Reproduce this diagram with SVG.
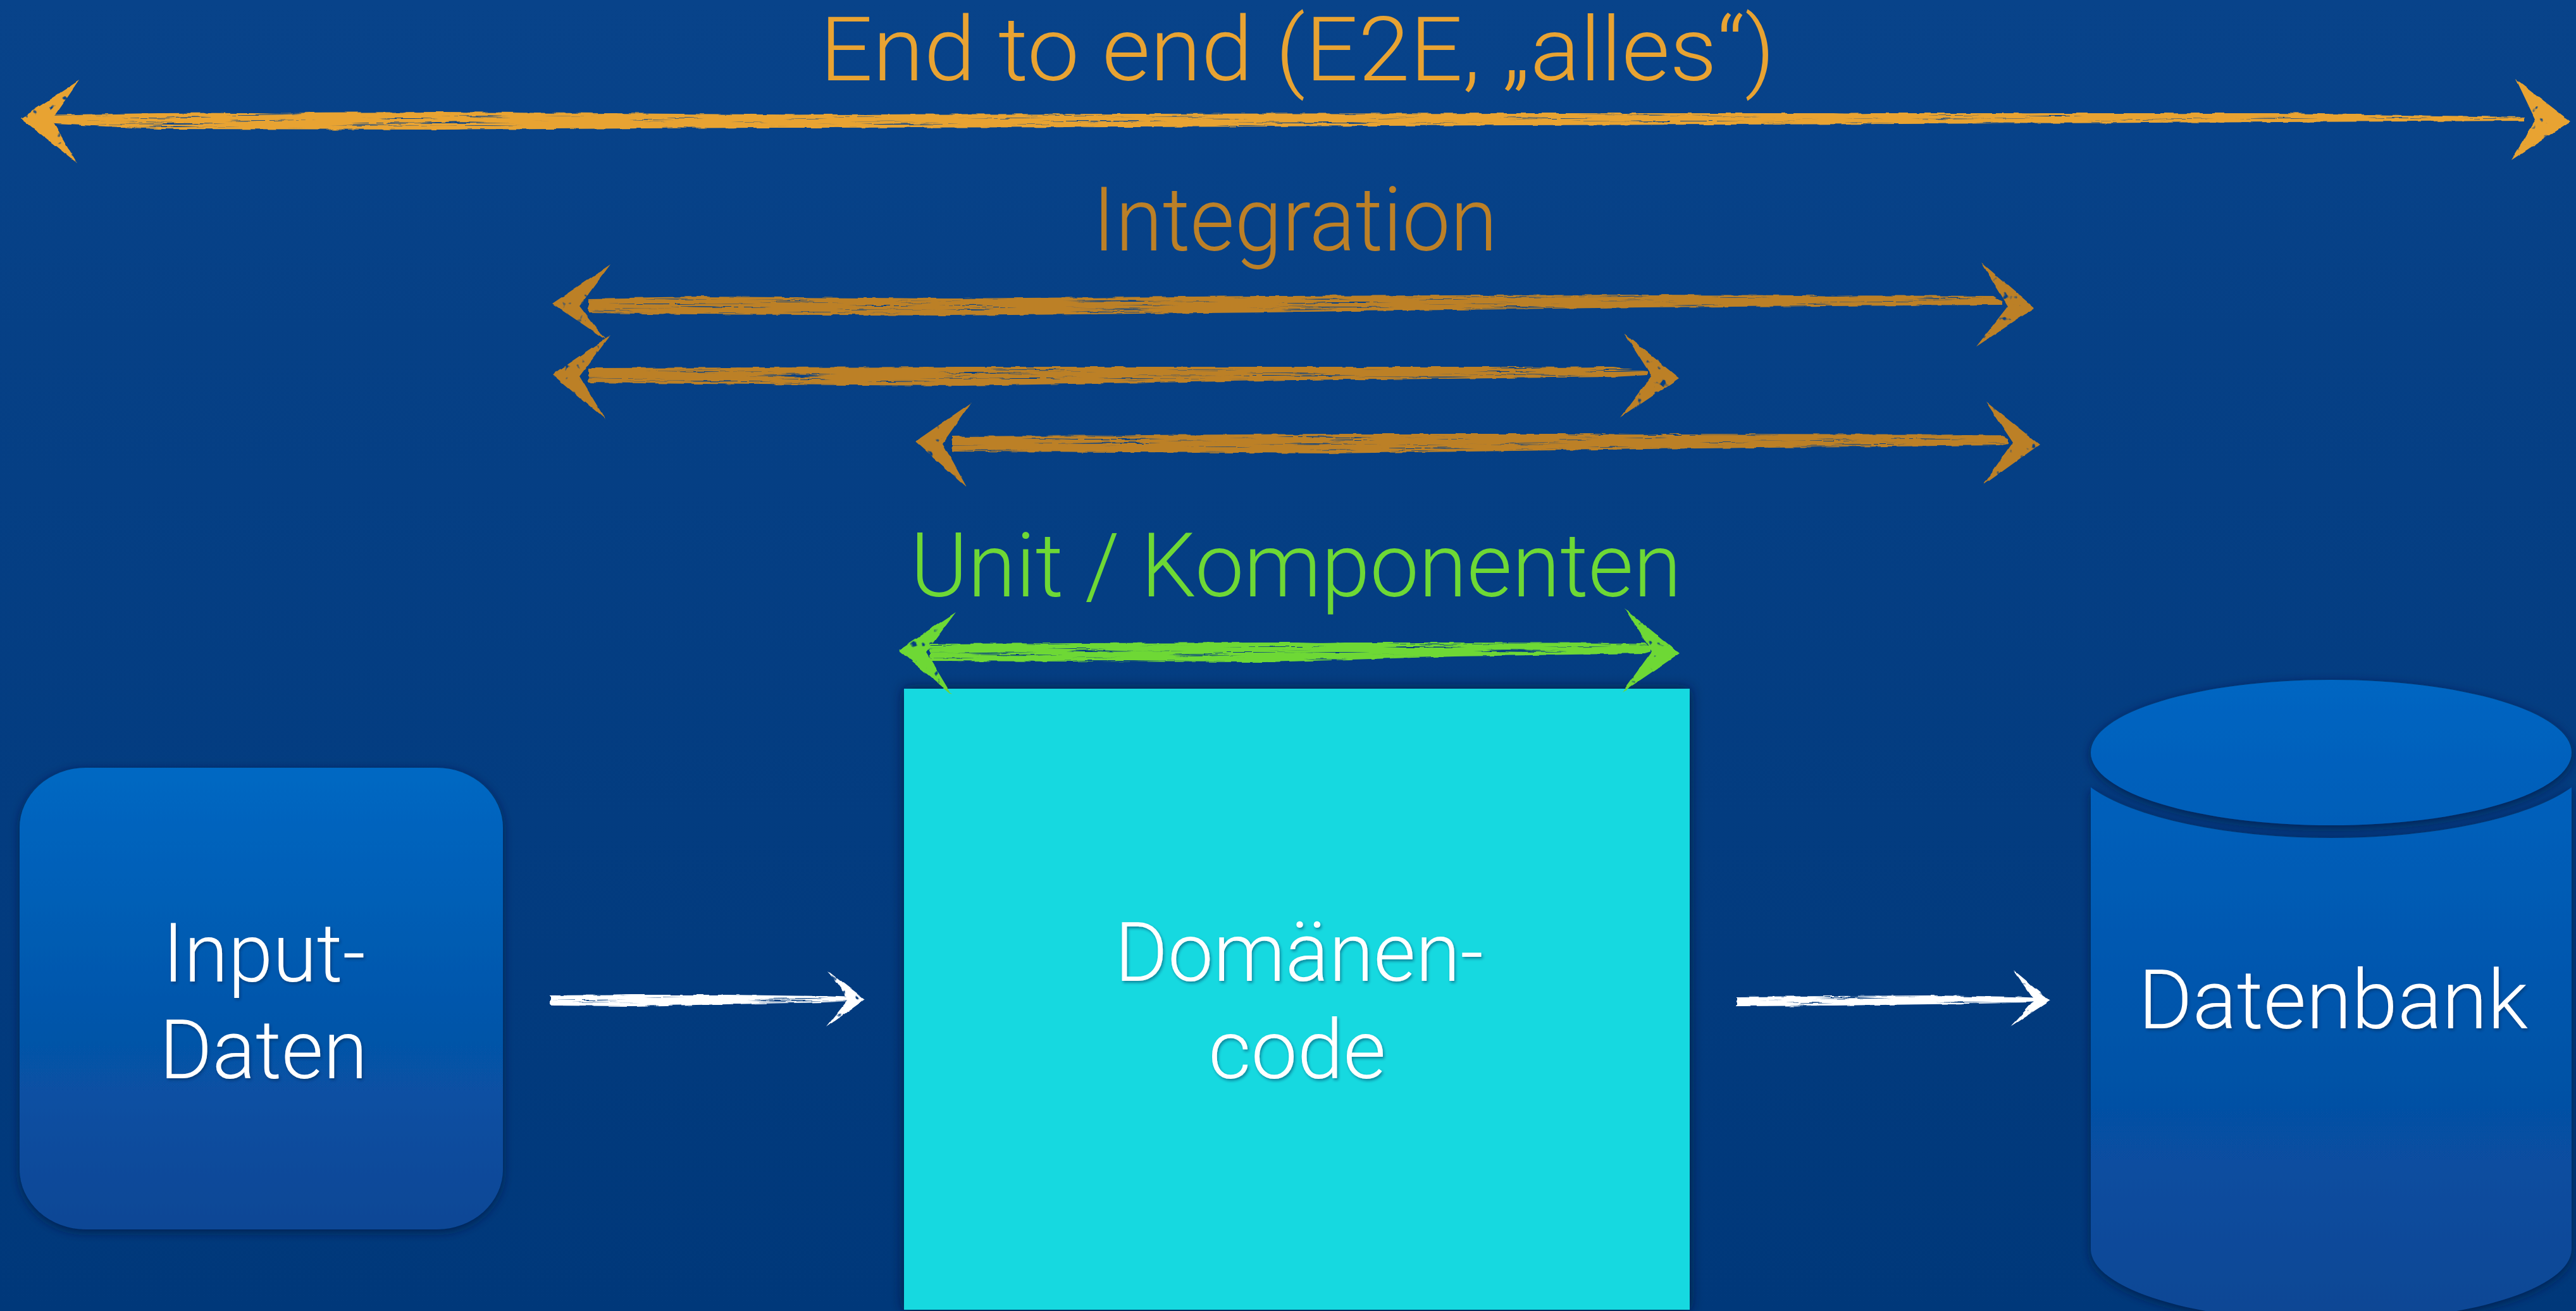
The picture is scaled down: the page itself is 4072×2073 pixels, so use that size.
<svg xmlns="http://www.w3.org/2000/svg" width="4072" height="2073" viewBox="0 0 4072 2073">
  <defs>
    <linearGradient id="bg" x1="0" y1="0" x2="0" y2="1">
      <stop offset="0" stop-color="#08438a"/>
      <stop offset="1" stop-color="#00387a"/>
    </linearGradient>
    <linearGradient id="nodeBlue" x1="0" y1="0" x2="0" y2="1">
      <stop offset="0" stop-color="#0068c3"/>
      <stop offset="1" stop-color="#0a4695"/>
    </linearGradient>
    <linearGradient id="lidBlue" x1="0" y1="0" x2="0" y2="1">
      <stop offset="0" stop-color="#0066c2"/>
      <stop offset="1" stop-color="#005db8"/>
    </linearGradient>
    <linearGradient id="bodyBlue" x1="0" y1="0" x2="0" y2="1">
      <stop offset="0" stop-color="#0060bc"/>
      <stop offset="1" stop-color="#0a4694"/>
    </linearGradient>
    <!-- soft shadows under the shapes -->
    <filter id="shadow" x="-10%" y="-10%" width="120%" height="120%">
      <feDropShadow dx="0" dy="4" stdDeviation="8" flood-color="#001a40" flood-opacity="0.75"/>
    </filter>
    <filter id="glow" x="-10%" y="-10%" width="120%" height="120%">
      <feDropShadow dx="0" dy="0" stdDeviation="10" flood-color="#001530" flood-opacity="0.85"/>
    </filter>
    <filter id="textShadow" x="-5%" y="-20%" width="110%" height="140%">
      <feDropShadow dx="2" dy="3" stdDeviation="2" flood-color="#00204a" flood-opacity="0.45"/>
    </filter>
    <!-- chalk texture: streaky holes plus rough edges -->
    <filter id="chalk" filterUnits="userSpaceOnUse" x="0" y="0" width="4072" height="2073">
      <feTurbulence type="fractalNoise" baseFrequency="0.006 0.45" numOctaves="2" seed="3" result="n"/>
      <feColorMatrix in="n" type="matrix" values="0 0 0 0 0  0 0 0 0 0  0 0 0 0 0  7 0 0 0 -1.6" result="m"/>
      <feComposite in="SourceGraphic" in2="m" operator="in" result="c"/>
      <feTurbulence type="fractalNoise" baseFrequency="0.05 0.2" numOctaves="1" seed="8" result="d"/>
      <feDisplacementMap in="c" in2="d" scale="6" xChannelSelector="R" yChannelSelector="G"/>
    </filter>
    <filter id="rough" filterUnits="userSpaceOnUse" x="0" y="0" width="4072" height="2073">
      <feTurbulence type="fractalNoise" baseFrequency="0.08 0.08" numOctaves="2" seed="5" result="n"/>
      <feColorMatrix in="n" type="matrix" values="0 0 0 0 0  0 0 0 0 0  0 0 0 0 0  8 0 0 0 -1.5" result="m"/>
      <feComposite in="SourceGraphic" in2="m" operator="in" result="c"/>
      <feTurbulence type="fractalNoise" baseFrequency="0.06" numOctaves="1" seed="2" result="d"/>
      <feDisplacementMap in="c" in2="d" scale="5" xChannelSelector="R" yChannelSelector="G"/>
    </filter>
    <style>
      .label { font-family: Roboto, Inter, Lato, "Liberation Sans", sans-serif; font-weight: 300; }
      .scope { font-size: 141px; }
      .e2e { fill: #e8a332; }
      .integ { fill: #bc8027; }
      .unit { fill: #6ed835; }
      .node-text { font-size: 130px; fill: #ffffff; filter: url(#textShadow); }
      .c-e2e { fill: #e8a332; }
      .c-integ { fill: #bc8027; }
      .c-unit { fill: #6ed835; }
      .c-flow { fill: #ffffff; }
      .shaft { filter: url(#chalk); }
      .head { filter: url(#rough); }
    </style>
  </defs>

  <!-- background -->
  <rect x="0" y="0" width="4072" height="2073" fill="url(#bg)"/>

  <!-- scope labels -->
  <g id="scope-labels" class="label scope">
    <text class="e2e" x="1296" y="127" textLength="1510" lengthAdjust="spacingAndGlyphs">End to end (E2E, „alles“)</text>
    <text class="integ" x="1727" y="396" textLength="640" lengthAdjust="spacingAndGlyphs">Integration</text>
    <text class="unit" x="1439" y="943" textLength="1219" lengthAdjust="spacingAndGlyphs">Unit / Komponenten</text>
  </g>

  <!-- nodes -->
  <g id="input-data">
    <rect x="31" y="1214" width="764" height="730" rx="105" ry="95" fill="url(#nodeBlue)" filter="url(#shadow)"/>
    <text class="label node-text" x="257" y="1552" textLength="321" lengthAdjust="spacingAndGlyphs">Input-</text>
    <text class="label node-text" x="252" y="1705" textLength="329" lengthAdjust="spacingAndGlyphs">Daten</text>
  </g>

  <g id="domain-code">
    <rect x="1429" y="1089" width="1242" height="982" fill="#12d9e0" filter="url(#glow)"/>
    <text class="label node-text" x="1762" y="1551" textLength="583" lengthAdjust="spacingAndGlyphs">Domänen-</text>
    <text class="label node-text" x="1910" y="1705" textLength="281" lengthAdjust="spacingAndGlyphs">code</text>
  </g>

  <g id="database">
    <path d="M3305 1245 L3305 1975 A380 115 0 0 0 4065 1975 L4065 1245 A416 135 0 0 1 3305 1245 Z" fill="url(#bodyBlue)" filter="url(#shadow)"/>
    <ellipse cx="3685" cy="1190" rx="380" ry="115" fill="url(#lidBlue)" filter="url(#shadow)"/>
    <text class="label node-text" x="3380" y="1626" textLength="616" lengthAdjust="spacingAndGlyphs">Datenbank</text>
  </g>

  <!-- connectors: hand-drawn chalk arrows -->
  <g id="connectors">
    <!-- end to end -->
    <g class="c-e2e">
      <polygon class="shaft" points="48,182 250,179 700,177 1200,181 1800,180 2400,179 3000,179 3600,179 3990,185 3990,191 3600,193 3000,196 2400,198 1800,201 1200,202 700,205 250,204 48,194"/>
      <polygon class="head" points="125,127 33,187 122,258 82,190"/>
      <polygon class="head" points="3977,125 4063,192 3970,253 4008,190"/>
    </g>
    <!-- integration, widest -->
    <g class="c-integ">
      <polygon class="shaft" points="930,472 1100,469 1500,472 2000,468 2600,466 3150,468 3165,477 3165,482 2600,486 2000,494 1500,499 1100,497 930,495"/>
      <polygon class="head" points="965,418 873,480 957,537 916,484"/>
      <polygon class="head" points="3132,415 3216,487 3124,548 3174,484"/>
    </g>
    <!-- integration, left part -->
    <g class="c-integ">
      <polygon class="shaft" points="930,582 1200,581 1520,580 2000,580 2550,580 2605,587 2605,593 2550,596 2000,602 1520,610 1200,608 930,605"/>
      <polygon class="head" points="965,530 873,592 957,663 916,595"/>
      <polygon class="head" points="2568,527 2654,598 2562,660 2611,595"/>
    </g>
    <!-- integration, right part -->
    <g class="c-integ">
      <polygon class="shaft" points="1505,690 1800,688 2100,686 2600,686 3160,687 3175,695 3175,701 3160,704 2600,710 2100,717 1800,715 1505,714"/>
      <polygon class="head" points="1535,637 1447,698 1528,770 1490,701"/>
      <polygon class="head" points="3139,635 3224,703 3135,767 3182,700"/>
    </g>
    <!-- unit -->
    <g class="c-unit">
      <polygon class="shaft" points="1470,1018 1700,1017 2000,1016 2300,1016 2600,1017 2610,1024 2610,1030 2600,1033 2300,1038 2000,1047 1700,1046 1470,1045"/>
      <polygon class="head" points="1511,968 1420,1028 1504,1098 1464,1031"/>
      <polygon class="head" points="2569,963 2655,1033 2564,1095 2611,1030"/>
    </g>
    <!-- data flow: input to domain code -->
    <g class="c-flow">
      <polygon class="shaft" points="870,1574 1000,1573 1150,1573 1300,1575 1350,1577 1350,1583 1300,1585 1150,1588 1000,1591 870,1590"/>
      <polygon class="head" points="1309,1535 1367,1580 1306,1624 1341,1580"/>
    </g>
    <!-- data flow: domain code to database -->
    <g class="c-flow">
      <polygon class="shaft" points="2745,1576 2900,1575 3050,1574 3180,1576 3225,1578 3225,1584 3180,1586 3050,1588 2900,1590 2745,1591"/>
      <polygon class="head" points="3183,1534 3241,1582 3178,1623 3216,1582"/>
    </g>
  </g>
</svg>
